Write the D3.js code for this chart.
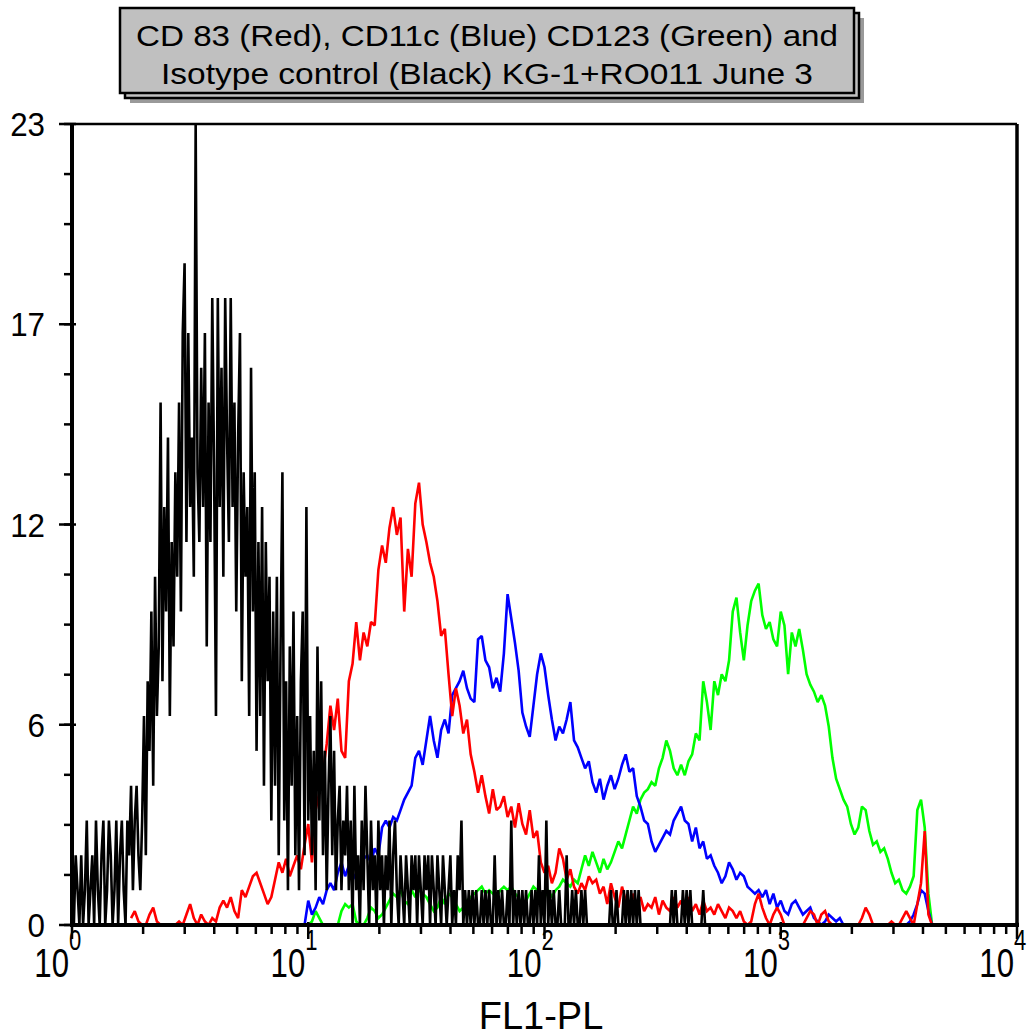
<!DOCTYPE html>
<html>
<head>
<meta charset="utf-8">
<script src="https://cdn.jsdelivr.net/npm/d3@7"></script>
<style>
  html, body { margin: 0; padding: 0; background: #fff; }
  svg { display: block; font-family: "Liberation Sans", Arial, sans-serif; }
</style>
</head>
<body>
<svg id="chart" width="1034" height="1036"></svg>
<script>
// ---- Histogram data (event counts per channel, FL1 log scale, 4 decades) ----
// Isotype control: 128 channels per decade, starting at channel 0
const isotypeChannelsPerDecade = 128;
const isotypeStart = 0;
const isotypeCounts = [
  3,0,2,1,0,2,0,1,3,0,1,2,0,3,1,0,2,3,0,1,3,2,0,1,3,0,2,3,1,0,3,2,4,1,3,4,2,1,
  3,6,2,7,5,9,4,10,6,8,15,7,12,9,14,6,11,8,13,10,15,9,17,19,11,17,12,14,10,23,13,11,
  16,12,17,8,15,11,18,13,6,18,12,16,10,18,14,11,18,12,15,9,14,17,7,13,10,12,6,
  16,9,13,5,11,6,12,4,11,7,10,3,9,4,10,2,8,13,3,7,1,8,4,9,2,6,1,
  7,9,2,12,3,6,2,5,1,8,3,7,2,5,1,4,6,2,5,1,3,4,1,3,2,
  4,1,3,0,4,1,2,0,3,1, 4,2,0,3,1,2,0,3,1,2, 0,2,1,3,0,2,3,1,0,2,
  1,0,2,1,0,2,1,2,0,2, 1,0,2,1,2,0,2,1,0,2, 1,0,
  2,1,0,1,2,0,1,0,2,1, 3,0,1,0,1,0,1,0,1,0, 0,1,0,1,0,1,0,0,2,0,
  1,0,1,0,0,1,0,3,0,1, 0,1,0,1,0,1,0,0,1,0, 1,0,2,0,1,0,3,0,1,0,
  1,0,0,1,0,0,0,2,0,0, 1,0,1,0,0,1,0,1,0,0, 0,0,0,0,0,0,0,0,0,0,
  0,1,0,0,1,0,0,0,1,0, 1,0,1,0,1,0,1,0,0,0, 0,0,0,0,0,0,0,0,0,0,
  0,0,0,0,1,0,1,0,0,0, 1,0,1,0,1,0,0,0,0,0, 0,1,0
];

// Stained samples: 64 channels per decade
const stainChannelsPerDecade = 64;

const cd83Start = 16;
const cd83Counts = [
  0.2,0.4,0.1,0,0,0.3,0.5,0.1,0,0,
  0,0,0,0.1,0,0.3,0.6,0.2,0,0.3,
  0.1,0,0.2,0.1,0.5,0.7,0.5,0.8,0.4,0.2,
  1.0,0.8,1.1,1.4,1.5,1.2,0.9,0.6,0.8,1.3,
  1.8,1.5,1.9,1.4,1.7,2.0,1.6,2.3,2.9,1.8,
  3.3,3.8,4.4,5.2,6.3,5.6,6.5,5.0,4.8,7.0,
  7.5,8.7,7.6,8.4,8.0,8.7,8.6,10.2,10.9,10.4,
  11.4,12.0,11.2,11.7,9.0,10.8,10.0,12.1,12.7,11.5,
  11.0,10.4,10.0,9.3,8.3,8.5,7.2,6.0,6.8,6.3,
  5.5,5.9,4.9,4.4,3.8,4.3,3.7,3.2,3.9,3.3,
  3.4,3.7,3.1,3.4,2.8,3.5,2.9,2.6,3.3,2.5,
  2.7,1.8,1.5,1.7,1.2,1.5,2.2,1.9,1.3,1.6,
  1.1,0.9,1.2,1.0,1.4,1.2,1.3,0.9,1.1,0.6,
  1.2,0.8,0.5,1.1,0.7,0.3,0.9,0.6,0.8,0.4,
  0.6,0.5,0.8,0.3,0.7,0.5,0.4,0.8,0.5,0.7,
  0.3,0.8,0.4,0.6,0.3,0.7,0.4,0.5,0.3,0.6,
  0.4,0.2,0.5,0.4,0.2,0.4,0.1,0,0.1,0.6,
  0.9,0.5,0.2,0,0.3,0.5,0.3,0,0,0,
  0,0,0,0.2,0.4,0.3,0,0.3,0.4,0.1,
  0,0,0,0,0,0,0,0,0.2,0.5,
  0.3,0,0,0,0,0,0.1,0,0,0.2,
  0.4,0.2,0,0.6,1.2,2.7,0.3,0
];

const cd11cStart = 63;
const cd11cCounts = [
  0,0.7,0.3,0.5,0.8,0.6,1.0,1.2,1.0,1.5,
  1.8,1.4,1.7,1.5,1.3,1.6,1.9,2.0,1.8,2.2,
  2.0,2.8,3.0,2.8,3.1,3.0,3.3,3.6,3.8,4.0,
  4.8,5.0,4.6,5.3,6.0,5.3,4.8,5.6,5.9,5.5,
  6.6,6.8,7.0,7.3,6.8,6.5,6.4,8.2,8.3,7.6,
  7.4,6.8,7.1,6.7,7.8,9.5,8.8,8.1,7.3,6.1,
  5.7,5.4,6.3,7.2,7.8,7.4,6.6,5.9,5.3,5.7,
  5.5,5.9,6.4,5.3,5.1,4.8,4.5,4.7,4.1,3.8,
  4.2,3.6,4.0,4.3,3.9,4.2,4.6,4.9,4.4,4.5,
  3.7,3.4,3.0,2.9,2.4,2.1,2.3,2.5,2.7,2.6,
  3.0,3.2,3.4,3.0,2.9,2.4,2.8,2.2,2.4,1.9,
  2.0,1.7,1.5,1.2,1.4,1.8,1.6,1.3,1.5,1.4,
  1.1,1.0,0.9,1.0,0.8,1.0,0.6,0.9,0.5,0.7,
  0.4,0.3,0.6,0.7,0.5,0.3,0.4,0.5,0.2,0.1,
  0,0.1,0.3,0.2,0.1,0.2,0,0,0,0,
  0,0,0,0,0,0,0,0,0,0,
  0,0,0,0,0.1,0.3,0.6,1.0,0.9,0.4,0
];

const cd123Start = 63;
const cd123Counts = [
  0,0,0.1,0.4,0.2,0,0,0,0,0,
  0.4,0.6,0.5,0.6,0.1,0,0,0.2,0.5,0.4,
  0.2,0.3,0.5,0.7,0.9,0.8,1.0,0.7,0.6,1.0,
  0.8,1.0,0.9,0.8,0.6,0.4,0.5,0.8,0.6,0.9,
  0.8,0.6,0.4,0.5,0.7,0.8,0.9,1.0,1.1,0.9,
  1.0,0.9,0.8,1.0,1.1,1.0,1.1,0.9,0.8,0.5,
  0.7,0.9,1.1,1.0,0.9,0.8,1.0,0.8,1.0,1.1,
  1.3,1.2,1.1,1.3,1.2,1.6,2.0,1.7,2.1,1.8,
  1.5,1.9,1.6,1.8,2.1,2.4,2.2,2.6,3.0,3.4,
  3.2,3.6,3.8,3.9,4.1,4.0,4.5,4.8,5.3,5.0,
  4.5,4.3,4.6,4.3,4.7,4.9,5.5,5.3,7.0,6.4,
  5.6,7.0,6.6,7.2,7.0,7.6,9.0,9.4,8.4,7.6,
  8.6,9.3,9.6,9.8,8.9,8.5,8.7,8.2,8.0,9.0,
  8.6,7.2,8.4,8.0,8.5,7.9,7.2,6.9,6.7,6.4,
  6.6,6.3,5.7,4.8,4.2,3.9,3.6,3.4,2.9,2.6,
  2.8,3.4,3.3,2.7,2.3,2.4,2.1,2.2,1.9,1.5,
  1.2,1.3,1.0,0.9,1.1,1.4,3.3,3.6,2.8,0.9,0
];

// Axis settings
const xDomain = [1, 10000];
const yMax = 23;
const yTickLabels = ["0", "6", "12", "17", "23"];
const xDecadeExponents = ["0", "1", "2", "3", "4"];
const xAxisTitle = "FL1-PL";
const titleLines = [
  "CD 83 (Red), CD11c (Blue) CD123 (Green) and",
  "Isotype control (Black) KG-1+RO011 June 3"
];

// ---- Layout ----
const svg = d3.select("#chart");
const plot = { left: 72, right: 1017, top: 124, bottom: 925 };

const x = d3.scaleLog().domain(xDomain).range([plot.left, plot.right]);
const y = d3.scaleLinear().domain([0, yMax]).range([plot.bottom, plot.top]);

function toPoints(counts, start, perDecade) {
  return counts.map((c, i) => ({ v: Math.pow(10, (start + i) / perDecade), c }));
}

// Text drawn with a horizontal squeeze (tall, narrow glyphs)
function narrowText(parent, str, px, py, size, anchor, sx) {
  return parent.append("text")
    .attr("transform", `translate(${px},${py}) scale(${sx},1)`)
    .attr("text-anchor", anchor)
    .attr("font-size", size)
    .attr("fill", "#000")
    .text(str);
}

// ---- Title box with drop shadow ----
const box = { x: 120, y: 8, w: 734, h: 85 };
svg.append("rect")
  .attr("x", box.x + 10).attr("y", box.y + 10)
  .attr("width", box.w).attr("height", box.h)
  .attr("fill", "#9a9a9a");
svg.append("rect")
  .attr("x", box.x + 5).attr("y", box.y + 5)
  .attr("width", box.w).attr("height", box.h)
  .attr("fill", "#c0c0c0").attr("stroke", "#000").attr("stroke-width", 2.5);
svg.append("rect")
  .attr("x", box.x).attr("y", box.y)
  .attr("width", box.w).attr("height", box.h)
  .attr("fill", "#c0c0c0").attr("stroke", "#000").attr("stroke-width", 2.5);

const titleWidths = [702, 652];
titleLines.forEach((t, i) => {
  svg.append("text")
    .attr("x", 487).attr("y", 46 + i * 38)
    .attr("text-anchor", "middle")
    .attr("font-size", 30)
    .attr("textLength", titleWidths[i])
    .attr("lengthAdjust", "spacingAndGlyphs")
    .attr("fill", "#000")
    .text(t);
});

// ---- Histogram lines ----
svg.append("clipPath").attr("id", "plotClip")
  .append("rect")
  .attr("x", plot.left).attr("y", plot.top - 2)
  .attr("width", plot.right - plot.left).attr("height", plot.bottom - plot.top + 4);

const line = d3.line().x(d => x(d.v)).y(d => y(d.c));
const gLines = svg.append("g").attr("clip-path", "url(#plotClip)");

const series = [
  { pts: toPoints(cd123Counts, cd123Start, stainChannelsPerDecade), color: "#00ff00", w: 2.6 },
  { pts: toPoints(cd11cCounts, cd11cStart, stainChannelsPerDecade), color: "#0000ff", w: 2.6 },
  { pts: toPoints(cd83Counts, cd83Start, stainChannelsPerDecade), color: "#ff0000", w: 2.6 },
  { pts: toPoints(isotypeCounts, isotypeStart, isotypeChannelsPerDecade), color: "#000000", w: 2.6 }
];
series.forEach(s => {
  gLines.append("path")
    .datum(s.pts)
    .attr("d", line)
    .attr("fill", "none")
    .attr("stroke", s.color)
    .attr("stroke-width", s.w)
    .attr("stroke-linejoin", "miter")
    .attr("stroke-miterlimit", 2);
});

// ---- Frame ----
svg.append("line")
  .attr("x1", plot.left).attr("x2", plot.right)
  .attr("y1", plot.top).attr("y2", plot.top)
  .attr("stroke", "#000").attr("stroke-width", 2.5);
svg.append("line")
  .attr("x1", plot.right).attr("x2", plot.right)
  .attr("y1", plot.top).attr("y2", plot.bottom)
  .attr("stroke", "#000").attr("stroke-width", 3.5);

// ---- Y axis ----
const yMajor = d3.range(0, 5).map(i => i * yMax / 4);
const yMinor = d3.range(0, 17).map(i => i * yMax / 16);
const yAxis = svg.append("g");
yAxis.selectAll("line.minor").data(yMinor).join("line")
  .attr("x1", plot.left - 8).attr("x2", plot.left)
  .attr("y1", d => y(d)).attr("y2", d => y(d))
  .attr("stroke", "#000").attr("stroke-width", 2.5);
yAxis.selectAll("line.major").data(yMajor).join("line")
  .attr("x1", plot.left - 13).attr("x2", plot.left + 4)
  .attr("y1", d => y(d)).attr("y2", d => y(d))
  .attr("stroke", "#000").attr("stroke-width", 2.5);
yMajor.forEach((v, i) => {
  narrowText(yAxis, yTickLabels[i], 45, y(v) + 12, 33, "end", 0.95);
});
yAxis.append("line")
  .attr("x1", plot.left).attr("x2", plot.left)
  .attr("y1", plot.top - 1).attr("y2", plot.bottom + 2)
  .attr("stroke", "#000").attr("stroke-width", 4);

// ---- X axis (log decades) ----
const xAxis = svg.append("g");
const xMinor = [];
for (let d = 0; d < 4; d++) for (let m = 2; m <= 9; m++) xMinor.push(m * Math.pow(10, d));
const xMajor = xDecadeExponents.map(e => Math.pow(10, +e));
xAxis.selectAll("line.minor").data(xMinor).join("line")
  .attr("x1", d => x(d)).attr("x2", d => x(d))
  .attr("y1", plot.bottom).attr("y2", plot.bottom + 9)
  .attr("stroke", "#000").attr("stroke-width", 2.5);
xAxis.selectAll("line.major").data(xMajor).join("line")
  .attr("x1", d => x(d)).attr("x2", d => x(d))
  .attr("y1", plot.bottom - 3).attr("y2", plot.bottom + 14)
  .attr("stroke", "#000").attr("stroke-width", 2.5);
xAxis.append("line")
  .attr("x1", plot.left - 2).attr("x2", plot.right + 2)
  .attr("y1", plot.bottom).attr("y2", plot.bottom)
  .attr("stroke", "#000").attr("stroke-width", 4);

xMajor.forEach((v, i) => {
  const px = x(v);
  narrowText(xAxis, "10", px - 3, 977, 41, "end", 0.76);
  narrowText(xAxis, xDecadeExponents[i], px - 3, 950, 29, "start", 0.76);
});

svg.append("text")
  .attr("x", 541).attr("y", 1029)
  .attr("text-anchor", "middle")
  .attr("font-size", 38)
  .text(xAxisTitle);
</script>
</body>
</html>
